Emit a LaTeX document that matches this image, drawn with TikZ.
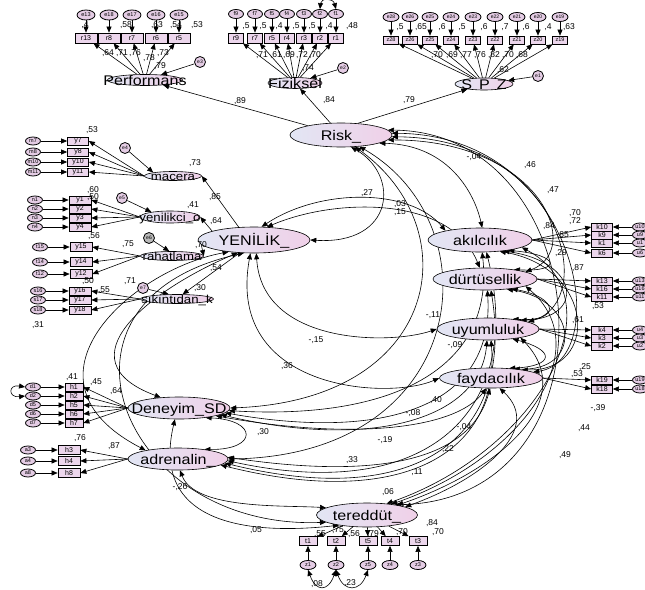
\documentclass[tikz,border=0pt]{standalone}
\usepackage{fontspec}
\setmainfont{Liberation Sans}
\newfontfamily\latf{Liberation Sans}[FakeStretch=1.15]
\usetikzlibrary{arrows.meta,shapes.geometric}
\pgfdeclarelayer{bg}
\pgfsetlayers{bg,main}
\definecolor{latL}{RGB}{226,230,244}
\definecolor{latR}{RGB}{240,208,232}
\definecolor{indF}{RGB}{236,214,236}
\definecolor{errF}{RGB}{228,204,228}
\newcommand{\ctx}[1]{\smash{\makebox[0pt]{\raisebox{-.36em}{#1}}}}
\tikzset{
 lat/.style={ellipse,draw,line width=.6pt,left color=latL,right color=latR,inner sep=0pt,font=\latf\fontsize{14}{14}\selectfont},
 slat/.style={lat,font=\latf\fontsize{11.5}{12}\selectfont},
 ind/.style={rectangle,draw,line width=.7pt,fill=indF,inner sep=0pt,minimum height=9pt,minimum width=20pt,font=\fontsize{7}{7}\selectfont},
 err/.style={ellipse,draw,line width=.8pt,fill=errF,inner sep=0pt,minimum width=16pt,minimum height=9pt,font=\fontsize{5.5}{5.5}\selectfont},
 dist/.style={circle,draw,line width=.8pt,fill=errF,inner sep=0pt,minimum size=11pt,font=\fontsize{5}{5}\selectfont},
 pth/.style={->,line width=.6pt},
 cov/.style={<->,line width=.6pt},
 lab/.style={font=\fontsize{8.5}{9}\selectfont,inner sep=0pt},
}
\begin{document}
\begin{tikzpicture}[x=1pt,y=-1pt,>={Triangle[length=6pt,width=5pt]}]
\useasboundingbox (0,0) rectangle (645,589);

% ---------- latent variables ----------
\node[lat,minimum width=102pt,minimum height=24pt] (risk) at (341,135) {\ctx{Risk\_}};
\node[lat,minimum width=75pt,minimum height=11pt] (perf) at (145,80) {\ctx{Performans}};
\node[lat,minimum width=54pt,minimum height=11pt] (fiz) at (295,83) {\ctx{Fiziksel}};
\node[lat,minimum width=58pt,minimum height=12pt] (spz) at (484,84) {\ctx{S\hspace{7pt}P\hspace{7pt}Z}};
\node[lat,minimum width=112pt,minimum height=26pt] (yen) at (254,240) {\ctx{YENİLİK\_}};
\node[slat,minimum width=57pt,minimum height=9pt] (macera) at (173,176) {\ctx{macera}};
\node[slat,minimum width=60pt,minimum height=12pt] (yenko) at (170,217) {\ctx{yenilikci\_o}};
\node[slat,minimum width=63pt,minimum height=9pt] (rahat) at (172,256) {\ctx{rahatlama}};
\node[slat,minimum width=73pt,minimum height=9pt] (sikin) at (177,299) {\ctx{sıkıntıdan\_k}};
\node[lat,minimum width=104pt,minimum height=24pt] (akil) at (480,240) {\ctx{akılcılık}};
\node[lat,minimum width=104pt,minimum height=22pt] (durt) at (485,279) {\ctx{dürtüsellik}};
\node[lat,minimum width=102pt,minimum height=22pt] (uyum) at (488,329) {\ctx{uyumluluk}};
\node[lat,minimum width=103pt,minimum height=20pt] (fayd) at (491,378) {\ctx{faydacılık}};
\node[lat,minimum width=102pt,minimum height=22pt] (den) at (179,408) {\ctx{Deneyim\_SD}};
\node[lat,minimum width=100pt,minimum height=22pt] (adr) at (178,459) {\ctx{adrenalin\_}};
\node[lat,minimum width=101pt,minimum height=24pt] (ter) at (367,515) {\ctx{tereddüt\_}};

% ---------- disturbances ----------
\node[dist] (ep) at (200,62) {e3};
\node[dist] (ef) at (343,68) {e2};
\node[dist] (es) at (538,76) {e1};
\node[dist] (em) at (125,148) {e4};
\node[dist] (eyk) at (122,198) {e5};
\node[dist,fill=gray!55] (era) at (149,238) {e6};
\node[dist] (esk) at (143,288) {e7};

% ---------- indicators ----------
\foreach \b/\x/\e in {13/86/13,8/109/18,7/132/17,6/156/16,5/179/15}{
  \node[ind,minimum width=22pt,minimum height=10pt] (pr\b) at (\x,38) {r\b};
  \node[err,minimum width=18pt,minimum height=10pt] (pe\e) at (\x,15) {e\e};
}
\foreach \b/\x in {9/236,7/255,5/272,4/287,3/304,2/320,1/336}{
  \node[ind,minimum width=15pt,minimum height=10pt] (fr\b) at (\x,38) {r\b};
  \node[err,minimum width=15pt,minimum height=9pt] (ff\b) at (\x,14) {f\b};
}
\foreach \b/\x in {28/391,26/410,25/430,24/451,23/473,22/495,21/517,20/538,19/560}{
  \node[ind,minimum width=15pt,minimum height=8pt,font=\fontsize{5.5}{5.5}\selectfont] (sz\b) at (\x,40) {z\b};
  \node[err,minimum width=16pt,minimum height=9pt,font=\fontsize{5}{5}\selectfont] (se\b) at (\x,17) {e\b};
}
\foreach \b/\y in {7/141,8/152,10/162,11/172}{
  \node[ind,minimum width=21pt,minimum height=8pt] (yb\b) at (78,\y) {y\b};
  \node[err,minimum width=15pt,minimum height=8pt] (my\b) at (33,\y) {m\b};
}
\foreach \b/\y in {1/200,2/209,3/218,4/227}{
  \node[ind,minimum width=22pt,minimum height=8pt] (yb\b) at (80,\y) {y\b};
  \node[err,minimum width=15pt,minimum height=8pt] (ny\b) at (35,\y) {n\b};
}
\foreach \b/\y in {15/247,14/262,12/274}{
  \node[ind,minimum width=22pt,minimum height=9pt] (yb\b) at (81,\y) {y\b};
  \node[err,minimum width=15pt,minimum height=8pt] (ty\b) at (40,\y) {t\b};
}
\foreach \b/\y in {16/291,17/300,18/310}{
  \node[ind,minimum width=22pt,minimum height=8pt] (yb\b) at (80,\y) {y\b};
  \node[err,minimum width=15pt,minimum height=8pt] (sy\b) at (38,\y) {s\b};
}
\foreach \b/\y in {1/387,2/396,5/405,6/414,7/423}{
  \node[ind,minimum width=18pt,minimum height=8pt] (hb\b) at (74,\y) {h\b};
  \node[err,minimum width=15pt,minimum height=8pt] (dd\b) at (33,\y) {d\b};
}
\foreach \b/\y in {3/450,4/461,8/473}{
  \node[ind,minimum width=22pt,minimum height=9pt] (hb\b) at (69,\y) {h\b};
  \node[err,minimum width=15pt,minimum height=8pt] (aa\b) at (28,\y) {a\b};
}
\foreach \b/\y in {10/227,9/235,1/243,6/253,13/281,16/289,11/297,4/330,3/338,2/346,19/380,18/389}{
  \node[ind,minimum width=21pt,minimum height=8pt] (kb\b) at (602,\y) {k\b};
  \node[err,minimum width=15pt,minimum height=8pt] (ku\b) at (640,\y) {u\b};
}
\foreach \b/\x in {1/308,2/336,5/368,4/390,3/418}{
  \node[ind,minimum width=18pt,minimum height=9pt] (tb\b) at (\x,541) {t\b};
  \node[err,minimum width=16pt,minimum height=9pt] (tz\b) at (\x,565) {z\b};
}

\begin{pgfonlayer}{bg}
\fill[white] (0,0) rectangle (645,589);
% ---------- measurement paths ----------
\foreach \b/\e in {13/13,8/18,7/17,6/16,5/15}{
  \draw[pth] (pe\e) -- (pr\b); \draw[pth] (perf) -- (pr\b);}
\foreach \b in {9,7,5,4,3,2,1}{
  \draw[pth] (ff\b) -- (fr\b); \draw[pth] (fiz) -- (fr\b);}
\foreach \b in {28,26,25,24,23,22,21,20,19}{
  \draw[pth] (se\b) -- (sz\b); \draw[pth] (spz) -- (sz\b);}
\foreach \b in {7,8,10,11}{
  \draw[pth] (my\b) -- (yb\b); \draw[pth] (macera.west) -- (yb\b.east);}
\foreach \b in {1,2,3,4}{
  \draw[pth] (ny\b) -- (yb\b); \draw[pth] (yenko.west) -- (yb\b.east);}
\foreach \b in {15,14,12}{
  \draw[pth] (ty\b) -- (yb\b); \draw[pth] (rahat.west) -- (yb\b.east);}
\foreach \b in {16,17,18}{
  \draw[pth] (sy\b) -- (yb\b); \draw[pth] (sikin.west) -- (yb\b.east);}
\foreach \b in {1,2,5,6,7}{
  \draw[pth] (dd\b) -- (hb\b); \draw[pth] (den.west) -- (hb\b.east);}
\foreach \b in {3,4,8}{
  \draw[pth] (aa\b) -- (hb\b); \draw[pth] (adr.west) -- (hb\b.east);}
\foreach \b in {10,9,1,6}{
  \draw[pth] (ku\b) -- (kb\b); \draw[pth] (akil.east) -- (kb\b.west);}
\foreach \b in {13,16,11}{
  \draw[pth] (ku\b) -- (kb\b); \draw[pth] (durt.east) -- (kb\b.west);}
\foreach \b in {4,3,2}{
  \draw[pth] (ku\b) -- (kb\b); \draw[pth] (uyum.east) -- (kb\b.west);}
\foreach \b in {19,18}{
  \draw[pth] (ku\b) -- (kb\b); \draw[pth] (fayd.east) -- (kb\b.west);}
\foreach \b in {1,2,5,4,3}{
  \draw[pth] (tz\b) -- (tb\b); \draw[pth] (ter) -- (tb\b);}

% error covariances
\draw[cov] (tz1.south) .. controls (316,592) and (328,592) .. (tz2.south);
\draw[cov] (tz2.south) .. controls (344,592) and (360,592) .. (tz5.south);
\draw[cov] (dd1.west) .. controls (8,384) and (8,398) .. (dd2.west);
\draw[cov] (ff2.north) .. controls (321,-2) and (333,-2) .. (ff1.north);

% ---------- structural paths ----------
\draw[pth] (risk) -- (perf);
\draw[pth] (risk) -- (fiz);
\draw[pth] (risk.35) -- (spz);
\draw[pth] (yen.140) -- (macera.east);
\draw[pth] (yen.168) -- (yenko.east);
\draw[pth] (yen.185) -- (rahat.east);
\draw[pth] (yen.222) -- (sikin.40);
\draw[pth] (ep) -- (perf);
\draw[pth] (ef) -- (fiz);
\draw[pth] (es) -- (spz);
\draw[pth] (em) -- (macera.170);
\draw[pth] (eyk) -- (yenko.165);
\draw[pth] (era) -- (rahat.120);
\draw[pth] (esk) -- (sikin.150);

% ---------- covariances ----------
\draw[cov] (risk.-50) .. controls (400,175) and (395,245) .. (yen.east);
\draw[cov] (risk.-12) .. controls (450,145) and (475,195) .. (akil.80);
\draw[cov] (risk.-6) .. controls (540,140) and (585,250) .. (durt.10);
\draw[cov] (risk.-2) .. controls (560,138) and (600,300) .. (uyum.10);
\draw[cov] (risk.2) .. controls (580,135) and (615,360) .. (fayd.8);
\draw[cov] (risk.6) .. controls (600,132) and (625,500) .. (ter.20);
\draw[cov] (risk.-40) .. controls (470,230) and (440,400) .. (den.east);
\draw[cov] (risk.-32) .. controls (495,225) and (470,455) .. (adr.east);
\draw[cov] (yen.60) .. controls (320,188) and (410,188) .. (akil.165);
\draw[cov] (yen.45) .. controls (335,198) and (450,195) .. (durt.115);
\draw[cov] (yen.-80) .. controls (262,345) and (390,345) .. (uyum.west);
\draw[cov] (yen.-105) .. controls (225,392) and (390,400) .. (fayd.west);
\draw[cov] (yen.205) .. controls (130,270) and (10,380) .. (adr.165);
\draw[cov] (yen.218) .. controls (150,290) and (60,360) .. (den.150);
\draw[cov] (yen.232) .. controls (30,300) and (120,530) .. (ter.190);
\draw[cov] (den.-20) .. controls (258,420) and (258,450) .. (adr.20);
\draw[cov] (den.-3) .. controls (390,420) and (495,370) .. (akil.-80);
\draw[cov] (den.-6) .. controls (380,440) and (495,410) .. (durt.-78);
\draw[cov] (den.-9) .. controls (370,450) and (480,420) .. (uyum.-95);
\draw[cov] (den.-12) .. controls (350,440) and (455,430) .. (fayd.-115);
\draw[cov] (den.-110) .. controls (150,525) and (250,535) .. (ter.200);
\draw[cov] (adr.-2) .. controls (430,505) and (525,410) .. (akil.-62);
\draw[cov] (adr.-5) .. controls (415,510) and (515,440) .. (durt.-62);
\draw[cov] (adr.-8) .. controls (400,510) and (500,455) .. (uyum.-75);
\draw[cov] (adr.2) .. controls (380,480) and (470,460) .. (fayd.-95);
\draw[cov] (adr.-80) .. controls (195,510) and (285,505) .. (ter.170);
\draw[cov] (ter.12) .. controls (480,480) and (545,430) .. (fayd.-50);
\draw[cov] (ter.18) .. controls (500,470) and (580,400) .. (uyum.-15);
\draw[cov] (ter.24) .. controls (520,460) and (600,350) .. (durt.-10);
\draw[cov] (ter.30) .. controls (540,450) and (620,300) .. (akil.-10);
\draw[cov] (akil.-20) .. controls (560,255) and (562,272) .. (durt.18);
\draw[cov] (akil.-25) .. controls (580,262) and (585,318) .. (uyum.15);
\draw[cov] (akil.-30) .. controls (595,268) and (600,372) .. (fayd.15);
\draw[cov] (durt.-20) .. controls (560,298) and (560,322) .. (uyum.22);
\draw[cov] (durt.-25) .. controls (580,300) and (582,372) .. (fayd.22);
\draw[cov] (uyum.-22) .. controls (555,350) and (555,366) .. (fayd.28);
\end{pgfonlayer}

% ---------- labels ----------
\foreach \t/\x/\y [count=\i] in {
 {,4}/85/25,{,58}/126/25,{,63}/157/25,{,54}/176/25,{,53}/197/25,
 {,64}/108/53,{,71}/122/53,{,76}/135/53,{,78}/149/58,{,73}/163/53,{,79}/160/66,
 {,5}/246/26,{,5}/263/26,{,4}/279/26,{,5}/296/26,{,5}/312/26,{,4}/329/26,{,48}/352/26,
 {,71}/262/55,{,61}/276/55,{,69}/289/55,{,72}/302/55,{,70}/315/55,{,74}/308/68,
 {,5}/400/27,{,65}/421/27,{,6}/442/27,{,5}/462/27,{,6}/484/27,{,7}/505/27,{,6}/526/27,{,4}/548/27,{,63}/569/27,
 {,70}/437/55,{,69}/452/55,{,77}/466/55,{,76}/480/55,{,82}/494/55,{,70}/508/55,{,68}/522/55,{,62}/503/70,
 {,89}/240/101,{,84}/329/100,{,79}/409/100,
 {,85}/215/197,{,73}/195/163,{,41}/193/205,{,64}/216/221,{,70}/201/245,{,54}/216/268,{,30}/200/288,
 {,53}/92/130,{,60}/93/190,{,50}/93/197,{,56}/94/236,{,75}/128/244,{,50}/88/281,{,55}/104/290,{,71}/130/281,
 {,41}/72/377,{,45}/96/382,{,64}/116/391,{,76}/80/438,{,87}/114/446,
 {,27}/367/193,{,03}/400/204,{,15}/400/212,{-,04}/474/157,{,46}/530/165,{,47}/553/190,{,31}/38/325,
 {-,11}/433/315,{-,15}/316/340,{-,09}/455/345,{,36}/287/366,{,40}/436/400,{-,08}/413/413,{-,19}/385/440,
 {-,04}/464/427,{,22}/448/449,{,33}/352/460,{,11}/417/472,{,06}/388/492,{,30}/263/432,{-,26}/180/487,
 {,05}/256/530,{,49}/565/455,{,44}/584/428,{-,39}/598/408,
 {,70}/575/213,{,72}/575/221,{,84}/549/226,{,85}/563/235,{,29}/561/253,{,87}/578/268,{,53}/598/306,
 {,61}/578/320,{,25}/585/367,{,53}/577/374,
 {,75}/338/530,{,55}/320/534,{,56}/354/534,{,79}/373/534,{,70}/402/532,{,84}/432/523,{,70}/438/532,
 {,08}/317/584,{,23}/350/583}
 {\node[lab] (lb\i) at (\x,\y) {\t};}
\end{tikzpicture}
\end{document}
